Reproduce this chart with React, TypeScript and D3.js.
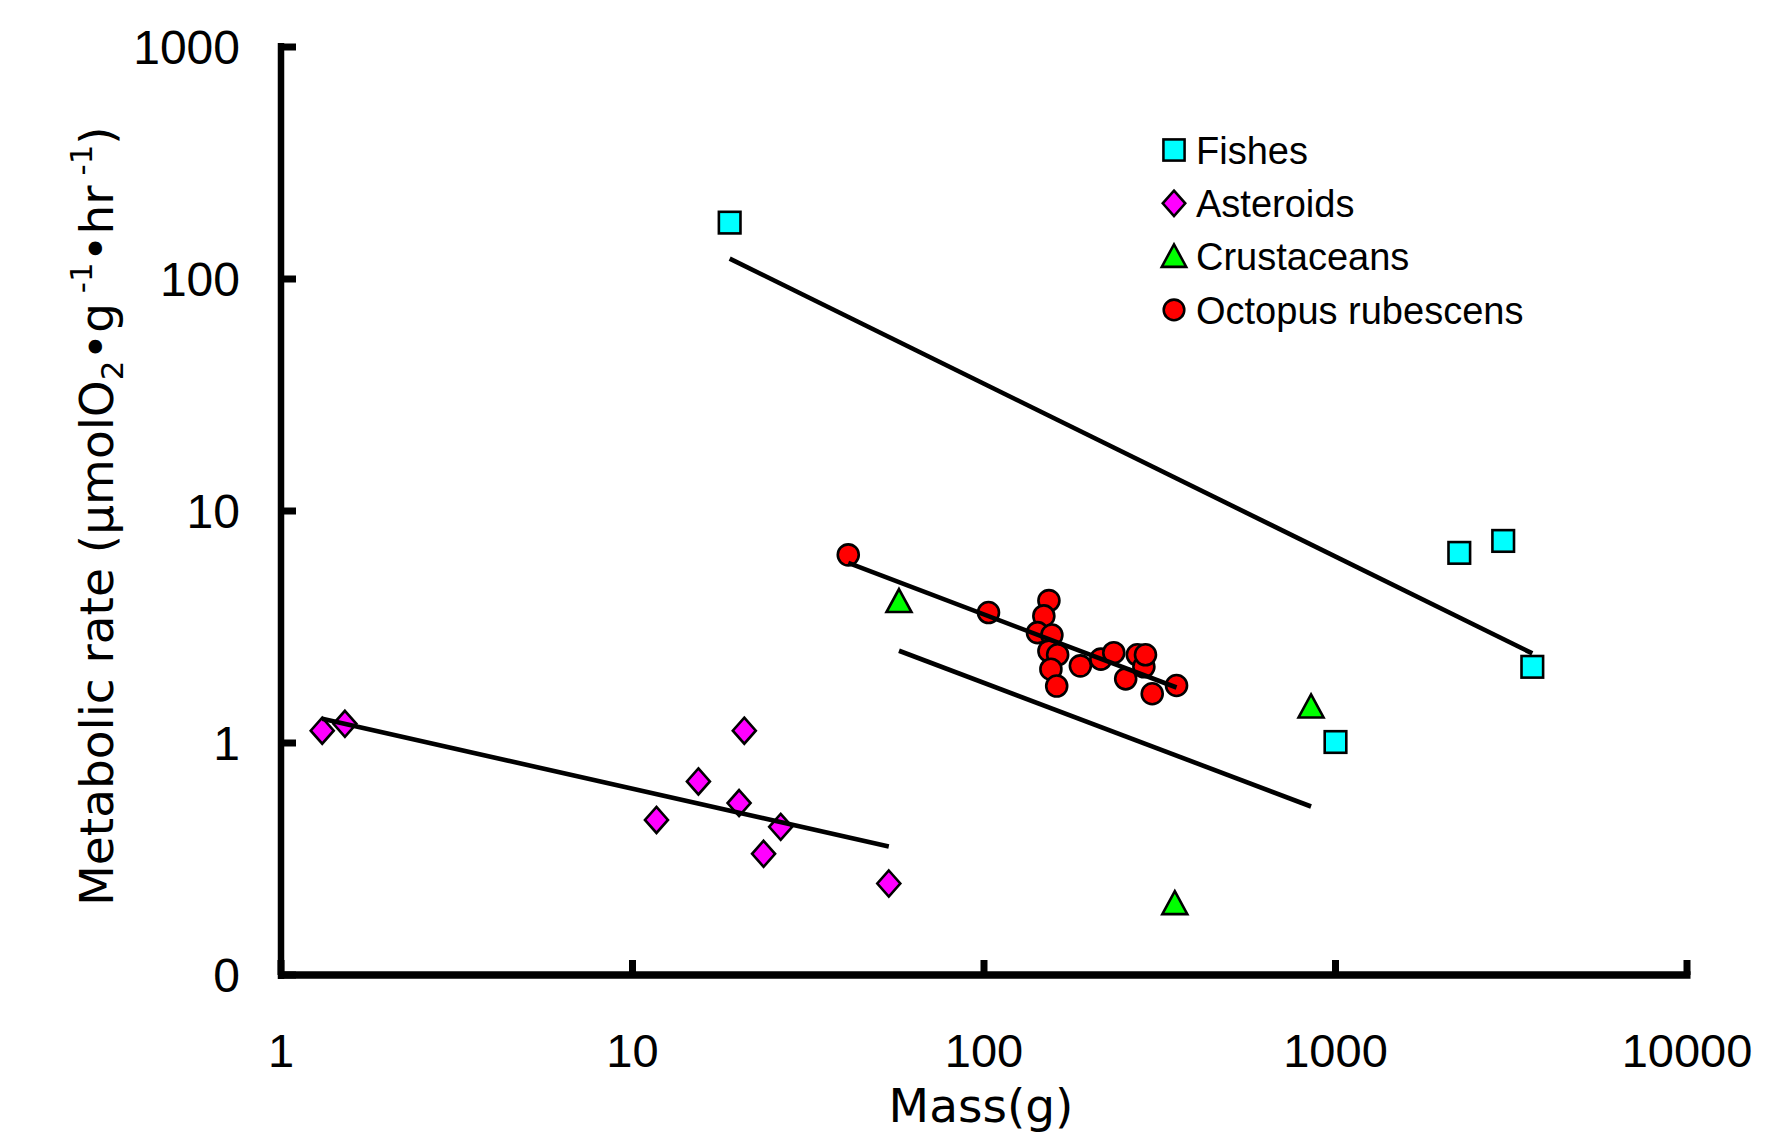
import React, { useEffect, useRef } from "react";
import * as d3 from "d3";

// mass (g) and metabolic rate (umol O2 / g / hr)
const fishMass = [18.9, 2250, 3000, 3630, 1000];
const fishRate = [175, 6.6, 7.43, 2.13, 1.01];

const asteroidMass = [1.31, 1.52, 11.7, 15.4, 20.1, 20.8, 23.6, 26.4, 53.6];
const asteroidRate = [1.13, 1.21, 0.466, 0.683, 0.551, 1.13, 0.333, 0.435, 0.248];

const crustMass = [57.3, 349, 852];
const crustRate = [4.07, 0.203, 1.43];

const octoMass = [41.1, 103, 153, 148, 142, 156, 153, 162, 155, 161, 188, 215, 234, 253, 273, 285, 288, 301, 353];
const octoRate = [6.47, 3.65, 4.11, 3.53, 2.99, 2.92, 2.49, 2.4, 2.08, 1.76, 2.15, 2.3, 2.45, 1.89, 2.4, 2.13, 2.4, 1.63, 1.77];

const xTicks = [1, 10, 100, 1000, 10000];
const yTicks = [0.1, 1, 10, 100, 1000];
const yTickLabels = ["0", "1", "10", "100", "1000"];

const seriesNames = ["Fishes", "Asteroids", "Crustaceans", "Octopus rubescens"];
const seriesColors = ["#00ffff", "#ff00ff", "#00ff00", "#ff0000"];
const seriesShapes = ["square", "diamond", "triangle", "circle"];

const W = 1769;
const H = 1134;

export default function App() {
  const ref = useRef<SVGSVGElement>(null);

  useEffect(() => {
    const svg = d3.select(ref.current);
    svg.selectAll("*").remove();

    const x = d3.scaleLog().domain([1, 10000]).range([281, 1687]);
    const y = d3.scaleLog().domain([0.1, 1000]).range([975, 47]);

    const series = [
      { mass: fishMass, rate: fishRate },
      { mass: asteroidMass, rate: asteroidRate },
      { mass: crustMass, rate: crustRate },
      { mass: octoMass, rate: octoRate },
    ].map((s, i) => ({
      ...s,
      name: seriesNames[i],
      color: seriesColors[i],
      shape: seriesShapes[i],
    }));

    const marker = (g: any, shape: string, color: string) => {
      if (shape === "square") {
        g.append("rect").attr("x", -10.8).attr("y", -10.8).attr("width", 21.6).attr("height", 21.6);
      } else if (shape === "diamond") {
        g.append("path").attr("d", "M0,-13L11.5,0L0,13L-11.5,0Z");
      } else if (shape === "triangle") {
        g.append("path").attr("d", "M0,-12.5L12.5,10.5L-12.5,10.5Z");
      } else {
        g.append("circle").attr("r", 10.5);
      }
      g.selectAll("*").attr("fill", color).attr("stroke", "#000").attr("stroke-width", 2.6);
    };

    // axes
    const axisG = svg.append("g").attr("stroke", "#000");
    axisG.append("line").attr("x1", 281).attr("x2", 281).attr("y1", y(1000) - 4).attr("y2", y(0.1) + 4).attr("stroke-width", 6.5);
    axisG.append("line").attr("x1", 278).attr("x2", x(10000) + 3.5).attr("y1", y(0.1)).attr("y2", y(0.1)).attr("stroke-width", 7.5);
    yTicks.forEach((t) => {
      axisG.append("line").attr("x1", 281).attr("x2", 296).attr("y1", y(t)).attr("y2", y(t)).attr("stroke-width", 7);
    });
    xTicks.forEach((t) => {
      axisG.append("line").attr("x1", x(t)).attr("x2", x(t)).attr("y1", y(0.1)).attr("y2", y(0.1) - 15).attr("stroke-width", 7);
    });

    const tickFont = "Liberation Sans, Arial, sans-serif";
    const titleFont = "DejaVu Sans, Verdana, sans-serif";
    svg
      .append("g")
      .selectAll("text")
      .data(yTicks)
      .enter()
      .append("text")
      .attr("x", 240)
      .attr("y", (d) => y(d))
      .attr("dy", "0.36em")
      .attr("text-anchor", "end")
      .style("font-family", tickFont)
      .style("font-size", "48px")
      .text((d, i) => yTickLabels[i]);

    svg
      .append("g")
      .selectAll("text")
      .data(xTicks)
      .enter()
      .append("text")
      .attr("x", (d) => x(d))
      .attr("y", 1067)
      .attr("text-anchor", "middle")
      .style("font-family", tickFont)
      .style("font-size", "47px")
      .text((d) => String(d));

    // axis titles
    svg
      .append("text")
      .attr("x", 981)
      .attr("y", 1122)
      .attr("text-anchor", "middle")
      .style("font-family", titleFont)
      .style("font-size", "47px")
      .text("Mass(g)");

    const yt = svg
      .append("text")
      .attr("transform", "translate(113,516) rotate(-90)")
      .attr("text-anchor", "middle")
      .style("font-family", titleFont)
      .style("font-size", "47px");
    yt.append("tspan").text("Metabolic rate (µmolO");
    yt.append("tspan").attr("dy", 10).style("font-size", "31px").text("2");
    yt.append("tspan").attr("dy", -10).text("•g");
    yt.append("tspan").attr("dy", -21).style("font-size", "31px").text(" -1");
    yt.append("tspan").attr("dy", 21).text("•hr");
    yt.append("tspan").attr("dy", -21).style("font-size", "31px").text(" -1");
    yt.append("tspan").attr("dy", 21).text(")");

    // points
    series.forEach((s) => {
      s.mass.forEach((m, i) => {
        const g = svg.append("g").attr("transform", `translate(${x(m)},${y(s.rate[i])})`);
        marker(g, s.shape, s.color);
      });
    });

    // power-law fits (least squares in log-log space)
    series.forEach((s) => {
      const lx = s.mass.map(Math.log10);
      const ly = s.rate.map(Math.log10);
      const mx = d3.mean(lx) as number;
      const my = d3.mean(ly) as number;
      const sxy = d3.sum(lx, (v, i) => (v - mx) * (ly[i] - my));
      const sxx = d3.sum(lx, (v) => (v - mx) * (v - mx));
      const slope = sxy / sxx;
      const [x0, x1] = d3.extent(lx) as [number, number];
      const fit = (lv: number) => Math.pow(10, my + slope * (lv - mx));
      svg
        .append("line")
        .attr("x1", x(Math.pow(10, x0)))
        .attr("y1", y(fit(x0)))
        .attr("x2", x(Math.pow(10, x1)))
        .attr("y2", y(fit(x1)))
        .attr("stroke", "#000")
        .attr("stroke-width", 4.6);
    });

    // legend
    const legend = svg.append("g").attr("transform", "translate(1174,150)");
    series.forEach((s, i) => {
      const row = legend.append("g").attr("transform", `translate(0,${i * 53.3})`);
      const mg = row.append("g").attr("transform", "scale(0.98)");
      marker(mg, s.shape, s.color);
      row
        .append("text")
        .attr("x", 22)
        .attr("dy", "0.36em")
        .style("font-family", "Liberation Sans, Arial, sans-serif")
        .style("font-size", "38px")
        .text(s.name);
    });
  }, []);

  return (
    <svg
      ref={ref}
      width={W}
      height={H}
      style={{ position: "absolute", left: 0, top: 0, background: "#fff" }}
    />
  );
}
